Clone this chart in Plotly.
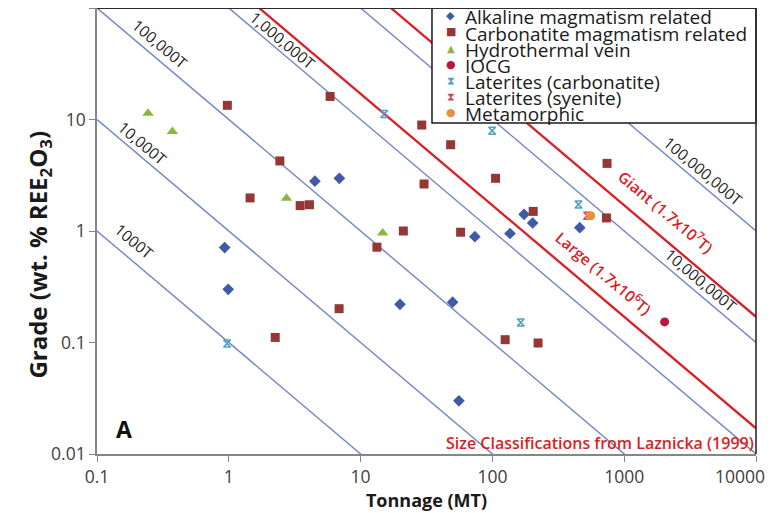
import plotly.graph_objects as go

# ---------------- data ----------------
alk_x = [0.93, 0.99, 4.5, 6.9, 19.9, 49.9, 55.7, 73.6, 136, 174, 202, 460]
alk_y = [0.71, 0.30, 2.8, 2.97, 0.22, 0.23, 0.030, 0.89, 0.95, 1.41, 1.18, 1.07]

carb_x = [0.975, 1.45, 2.25, 2.44, 3.48, 4.09, 5.87, 6.87, 13.3, 21.1,
          29.1, 30.3, 48.2, 57.4, 105.7, 125, 204, 222, 733, 741]
carb_y = [13.4, 1.98, 0.111, 4.25, 1.69, 1.72, 16.1, 0.201, 0.716, 1.0,
          8.92, 2.64, 5.94, 0.975, 2.97, 0.106, 1.50, 0.099, 1.31, 4.04]

hydro_x = [0.244, 0.373, 2.74, 14.7]
hydro_y = [11.4, 7.82, 1.97, 0.96]

iocg_x = [2027]
iocg_y = [0.153]

latc_x = [0.97, 15.1, 99.6, 164, 450]
latc_y = [0.098, 11.2, 7.93, 0.151, 1.73]

lats_x = [523]
lats_y = [1.37]

meta_x = [557]
meta_y = [1.37]

# contained REE2O3 (tonnes) for iso-tonnage guide lines
iso_tonnes = [1e3, 1e4, 1e5, 1e6, 1e7, 1e8]
iso_labels = ["1000T", "10,000T", "100,000T", "1,000,000T", "10,000,000T", "100,000,000T"]
class_tonnes = [1.7e6, 1.7e7]
class_labels = ["Large (1.7x10<sup>6</sup>T)", "Giant (1.7x10<sup>7</sup>T)"]

x_ticks = [0.1, 1, 10, 100, 1000, 10000]
x_ticktext = ["0.1", "1", "10", "100", "1000", "10000"]
y_ticks = [0.01, 0.1, 1, 10, 100]
y_ticktext = ["0.01", "0.1", "1", "10", "100"]

# ---------------- figure ----------------
XMIN, XMAX = 0.1, 10000
FONT = "Open Sans"
BLUE_LINE = "#7186c4"
RED_LINE = "#d91f26"

fig = go.Figure()

def iso_line(t, color, width):
    xs = [XMIN, XMAX]
    ys = [t * 1e-4 / x for x in xs]   # grade % = tonnes / (MT*1e6) * 100
    fig.add_trace(go.Scatter(x=xs, y=ys, mode="lines", showlegend=False,
                             hoverinfo="skip", line=dict(color=color, width=width)))

for t in iso_tonnes:
    iso_line(t, BLUE_LINE, 1.4)
for t in class_tonnes:
    iso_line(t, RED_LINE, 2.3)

series = [
    ("Alkaline magmatism related", alk_x, alk_y, "diamond", 9, "#3f5ba8"),
    ("Carbonatite magmatism related", carb_x, carb_y, "square", 9, "#953735"),
    ("Hydrothermal vein", hydro_x, hydro_y, "triangle-up", 10, "#8db53f"),
    ("IOCG", iocg_x, iocg_y, "circle", 9, "#b8173e"),
    ("Laterites (carbonatite)", latc_x, latc_y, "hourglass-open", 7, "#4ba3c3"),
    ("Laterites (syenite)", lats_x, lats_y, "hourglass-open", 7, "#c94b58"),
    ("Metamorphic", meta_x, meta_y, "circle", 9, "#e8913a"),
]
for name, xs, ys, sym, sz, col in series:
    fig.add_trace(go.Scatter(
        x=xs, y=ys, mode="markers", name=name, showlegend=False,
        marker=dict(symbol=sym, size=sz, color=col,
                    line=dict(width=1.6 if "open" in sym else 0, color=col))))

# ---------------- layout geometry ----------------
# The page body adds an 8px margin, so the figure is sized to sit in the
# 778x513 window with the plot area where the reference has it.
OFF = 8
W, H = 778 - OFF, 513 - OFF
PL, PR, PT, PB = 96.5, 756.5, OFF, 454        # plot edges in window pixels
L, T = PL - OFF, PT - OFF
R, B = W - (PR - OFF), H - (PB - OFF)
PW, PH = PR - PL, PB - PT

def px2paper(px, py):
    return (px - PL) / PW, (PB - py) / PH

annotations = []

# line labels (positions in log10 data units)
line_lbls = [
    ("1000T", -0.72, -0.09, "#222222", False),
    ("10,000T", -0.655, 0.79, "#222222", False),
    ("100,000T", -0.52, 1.68, "#222222", False),
    ("1,000,000T", 0.405, 1.71, "#222222", False),
    ("10,000,000T", 3.58, -0.44, "#222222", False),
    ("100,000,000T", 3.60, 0.54, "#222222", False),
    (class_labels[0], 2.845, -0.38, RED_LINE, True),
    (class_labels[1], 3.32, 0.17, RED_LINE, True),
]
for txt, lx, ly, col, bold in line_lbls:
    annotations.append(dict(
        x=lx, y=ly, xref="x", yref="y", text=txt, showarrow=False,
        xanchor="center", yanchor="middle",
        textangle=40, font=dict(family=FONT, size=15.5, color=col,
                                weight=600 if bold else 400)))

annotations.append(dict(
    x=1.0, y=px2paper(0, 443)[1], xref="paper", yref="paper", xanchor="right",
    yanchor="middle", text="Size Classifications from Laznicka (1999)", showarrow=False,
    font=dict(family=FONT, size=16, color=RED_LINE, weight=600)))

ax, ay = px2paper(124, 429)
annotations.append(dict(x=ax, y=ay, xref="paper", yref="paper", text="<b>A</b>",
                        xanchor="center", yanchor="middle",
                        showarrow=False, font=dict(family=FONT, size=23, color="#111111")))

# last x tick label, pulled inside the figure as in the reference
tx10k, ty10k = px2paper(740, 476)
annotations.append(dict(x=tx10k, y=ty10k, xref="paper", yref="paper", text=x_ticktext[-1],
                        xanchor="center", yanchor="middle", showarrow=False,
                        font=dict(family=FONT, size=17.5, color="#404040")))
x_ticktext_axis = x_ticktext[:-1] + [""]

# y-axis title (placed like the reference, slightly below the axis middle)
yx, yy = px2paper(38, 255)
annotations.append(dict(x=yx, y=yy, xref="paper", yref="paper", textangle=-90,
                        text="<b>Grade (wt. % REE<sub>2</sub>O<sub>3</sub>)</b>",
                        showarrow=False, xanchor="center", yanchor="middle",
                        font=dict(family=FONT, size=24, color="#1a1a1a")))

# custom legend
glyphs = ["◆", "■", "▲", "●", "⧗", "⧗", "●"]
glyph_sizes = [11, 11, 10, 11, 11, 11, 11]
row_y = [15, 31.5, 48, 64, 80, 96, 112]
for (name, xs, ys, sym, sz, col), g, gs, ry in zip(series, glyphs, glyph_sizes, row_y):
    gx, gy = px2paper(451, ry)
    annotations.append(dict(x=gx, y=gy, xref="paper", yref="paper", text=g,
                            showarrow=False, xanchor="center", yanchor="middle",
                            font=dict(family="DejaVu Sans", size=gs, color=col)))
    tx, ty = px2paper(463, ry + 2)
    annotations.append(dict(x=tx, y=ty, xref="paper", yref="paper", text=name,
                            showarrow=False, xanchor="left", yanchor="middle",
                            font=dict(family=FONT, size=19, color="#1a1a1a")))

lx0, ly0 = px2paper(432, 123)
shapes = [
    dict(type="rect", xref="paper", yref="paper", x0=lx0, x1=1.0, y0=ly0, y1=1.0,
         fillcolor="white", line=dict(color="#1a1a1a", width=1.5), layer="above"),
    dict(type="line", xref="paper", yref="paper", x0=0, x1=1, y0=1, y1=1,
         line=dict(color="#2b2b2b", width=2), layer="above"),
    dict(type="line", xref="paper", yref="paper", x0=1, x1=1, y0=0, y1=1,
         line=dict(color="#2b2b2b", width=1.6), layer="above"),
]

axis_common = dict(type="log", showgrid=False, zeroline=False, showline=True,
                   linecolor="#868686", linewidth=1.6, ticks="outside", ticklen=6,
                   tickcolor="#868686", tickwidth=1.2,
                   tickfont=dict(family=FONT, size=17.5, color="#404040"))

fig.update_layout(
    width=W, height=H,
    margin=dict(l=L, r=R, t=T, b=B, pad=0),
    paper_bgcolor="white", plot_bgcolor="white",
    xaxis=dict(range=[-1, 4], tickvals=x_ticks, ticktext=x_ticktext_axis,
               title=dict(text="<b>Tonnage (MT)</b>", standoff=4,
                          font=dict(family=FONT, size=18, color="#1a1a1a")),
               **axis_common),
    yaxis=dict(range=[-2, 2], tickvals=y_ticks, ticktext=y_ticktext, **axis_common),
    annotations=annotations, shapes=shapes, showlegend=False,
)

fig.write_html("out.html")
